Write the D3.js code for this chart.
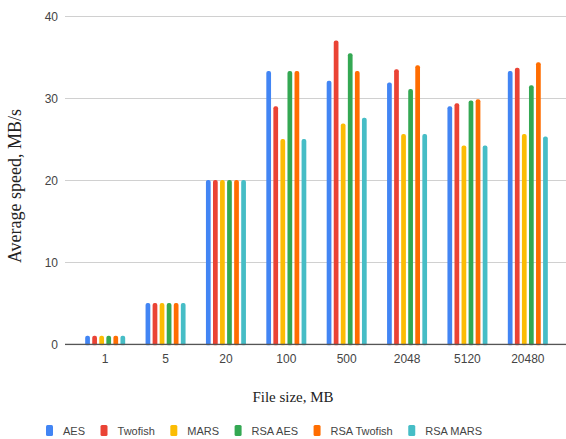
<!DOCTYPE html>
<html><head><meta charset="utf-8">
<script src="https://cdn.jsdelivr.net/npm/d3@7"></script>
<style>body{margin:0;background:#fff}svg{display:block}</style>
</head><body>
<svg id="c" width="566" height="439"></svg>
<script>
const categories = ["1","5","20","100","500","2048","5120","20480"];
const seriesNames = ["AES","Twofish","MARS","RSA AES","RSA Twofish","RSA MARS"];
const colors = ["#4285F4","#EA4335","#FBBC04","#34A853","#FF6D01","#46BDC6"];
const aes        = [1,5,20,33.3,32.1,31.9,29.0,33.3];
const twofish    = [1,5,20,29.0,37.0,33.5,29.35,33.7];
const mars       = [1,5,20,25.0,26.9,25.6,24.2,25.6];
const rsaAes     = [1,5,20,33.3,35.45,31.1,29.7,31.55];
const rsaTwofish = [1,5,20,33.3,33.3,34.0,29.85,34.35];
const rsaMars    = [1,5,20,25.0,27.6,25.6,24.2,25.3];
const yTicks = [0,10,20,30,40];
const seriesValues = [aes,twofish,mars,rsaAes,rsaTwofish,rsaMars];

const svg = d3.select("#c");
const y = d3.scaleLinear().domain([0,40]).range([344,16]);
const x0 = d3.scaleBand().domain(categories).range([75,558]);
const gridL = 65, gridR = 566;

svg.append("g").selectAll("line").data(yTicks.filter(t=>t>0)).join("line")
  .attr("x1",gridL).attr("x2",gridR).attr("y1",d=>Math.round(y(d))+0.5).attr("y2",d=>Math.round(y(d))+0.5)
  .attr("stroke","#d0d0d0").attr("stroke-width",1);

svg.append("g").selectAll("text").data(yTicks).join("text")
  .attr("x",58).attr("y",d=>y(d)+4.5).attr("text-anchor","end")
  .attr("font-family","Liberation Sans, Arial, sans-serif").attr("font-size",12).attr("fill","#444")
  .text(d=>d);

const groups = svg.append("g").selectAll("g").data(categories).join("g");
groups.each(function(cat, ci){
  const c = x0(cat) + x0.bandwidth()/2;
  const x1 = d3.scaleBand().domain(seriesNames).range([c-20,c+20]).paddingInner(0.33);
  d3.select(this).selectAll("rect").data(seriesNames).join("rect")
    .attr("x",s=>x1(s)).attr("width",x1.bandwidth())
    .attr("y",(s,si)=>y(seriesValues[si][ci]))
    .attr("height",(s,si)=>y(0)-y(seriesValues[si][ci])+2)
    .attr("rx",2).attr("fill",(s,si)=>colors[si]);
});

svg.append("line").attr("x1",gridL).attr("x2",gridR).attr("y1",344.5).attr("y2",344.5)
  .attr("stroke","#555").attr("stroke-width",1.5);
svg.append("rect").attr("x",gridL).attr("y",345.3).attr("width",gridR-gridL).attr("height",4).attr("fill","#fff");

svg.append("g").selectAll("text").data(categories).join("text")
  .attr("x",d=>x0(d)+x0.bandwidth()/2).attr("y",363).attr("text-anchor","middle")
  .attr("font-family","Liberation Sans, Arial, sans-serif").attr("font-size",12).attr("fill","#444")
  .text(d=>d);

svg.append("text").attr("x",293).attr("y",402).attr("text-anchor","middle")
  .attr("font-family","Liberation Serif, Times New Roman, serif").attr("font-size",15).attr("fill","#222")
  .text("File size, MB");
svg.append("text").attr("transform","translate(21,186) rotate(-90)").attr("text-anchor","middle")
  .attr("font-family","Liberation Serif, Times New Roman, serif").attr("font-size",18).attr("fill","#222")
  .text("Average speed, MB/s");

const leg = svg.append("g");
let lx = 46;
seriesNames.forEach((s,i)=>{
  leg.append("rect").attr("x",lx).attr("y",425).attr("width",7).attr("height",11).attr("rx",1.5).attr("fill",colors[i]);
  const t = leg.append("text").attr("x",lx+17).attr("y",434.5)
    .attr("font-family","Liberation Sans, Arial, sans-serif").attr("font-size",11).attr("fill","#444").text(s);
  lx += 17 + t.node().getComputedTextLength() + 15.5;
});
</script>
</body></html>
